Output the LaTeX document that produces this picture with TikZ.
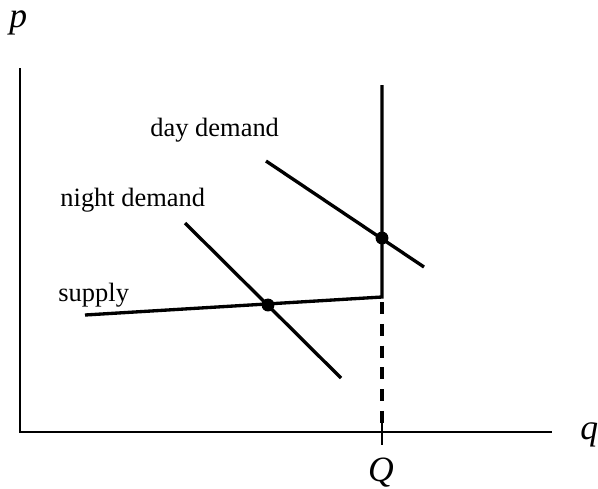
\documentclass[tikz,border=0pt]{standalone}
\usepackage{fontspec}
\setmainfont{Liberation Serif}
\tikzset{
	curve/.style={line width=1.5pt},
	axis/.style={line width=0.9pt},
	lbl/.style={inner sep=0pt,anchor=base west,font=\fontsize{11.9}{14}\selectfont},
	var/.style={inner sep=0pt,font=\fontsize{16}{19}\selectfont\itshape},
	eqpt/.style={circle,fill=black,inner sep=0pt,minimum size=5.8pt}
}
\begin{document}
\begin{tikzpicture}[x=0.45pt,y=-0.45pt]
		\useasboundingbox (0,0) rectangle (598,488);
		
		% Axes
		\coordinate (O) at (20,432);
		\coordinate (ytop) at (20,68);
		\coordinate (xend) at (552,432);
		\draw[axis] (ytop) -- (O) -- (xend);
		\node[var,anchor=base west] (p) at (9,27) {p};
		\node[var,anchor=base west] (q) at (580,439) {q};
		
		% Supply: flat, then vertical at Q
		\coordinate (s0) at (85,315);
		\coordinate (sQ) at (382,297);
		\coordinate (stop) at (382,85);
		\draw[curve,line join=miter] (s0) -- (sQ) -- (stop);
		\node[lbl] (supply) at (58,301.5) {supply};
		
		% Q on the axis
		\coordinate (Qtick) at (382,445);
		\draw[curve,dash pattern=on 5.4pt off 4.4pt] (382,302) -- (382,423);
		\draw[axis] (382,423) -- (Qtick);
		\node[var,anchor=base] (Q) at (381,481) {Q};
		
		% Demand curves
		\coordinate (n0) at (185,223);
		\coordinate (n1) at (341,378);
		\draw[curve] (n0) -- (n1);
		\node[lbl] (night) at (60,206) {night demand};
		
		\coordinate (d0) at (266,161);
		\coordinate (d1) at (424,267);
		\draw[curve] (d0) -- (d1);
		\node[lbl] (day) at (150,136.7) {day demand};
		
		% Equilibria
		\node[eqpt] (eN) at (268,305) {};
		\node[eqpt] (eD) at (382,238) {};

	\end{tikzpicture}
\end{document}
